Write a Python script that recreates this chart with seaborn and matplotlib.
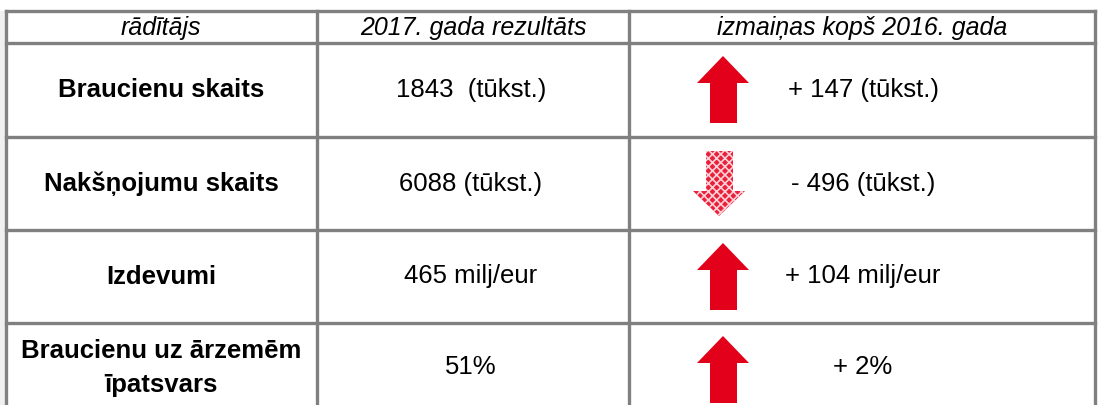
import numpy as np
import pandas as pd
import matplotlib
matplotlib.use("Agg")
import matplotlib.pyplot as plt
import seaborn as sns
from matplotlib.patches import Polygon, Rectangle

sns.set_theme(style="white")
plt.rcParams['font.family'] = ['Liberation Sans', 'DejaVu Sans']
plt.rcParams['text.color'] = 'black'
plt.rcParams['hatch.linewidth'] = 1.2

# table data
headers = ["rādītājs", "2017. gada rezultāts", "izmaiņas kopš 2016. gada"]
indicators = ["Braucienu skaits", "Nakšņojumu skaits", "Izdevumi", "Braucienu uz ārzemēm\nīpatsvars"]
results = ["1843  (tūkst.)", "6088 (tūkst.)", "465 milj/eur", "51%"]
changes = ["+ 147 (tūkst.)", "- 496 (tūkst.)", "+ 104 milj/eur", "+ 2%"]
direction = [1, -1, 1, 1]

df = pd.DataFrame({"indicator": indicators, "result": results,
                   "change": changes, "dir": direction})

# layout (pixel coords)
col_x = [6, 317, 629, 1095]
row_y = [11, 43, 137, 230, 323, 405]
line_c = "#808080"
red = "#e2001a"

fig = plt.figure(figsize=(10.98, 4.05), dpi=100)
ax = fig.add_axes([0, 0, 1, 1])
ax.set_xlim(0, 1098)
ax.set_ylim(405, 0)
ax.axis("off")

# light grey strip at left
ax.add_patch(Rectangle((0, 11), 5, 394, color="#f0f0f0", lw=0))

# grid lines
for y in row_y[:-1]:
    ax.plot([col_x[0], col_x[-1]], [y, y], color=line_c, lw=2.4, solid_capstyle="projecting")
for x in col_x:
    ax.plot([x, x], [row_y[0], 405], color=line_c, lw=2.4, solid_capstyle="projecting")

fs = 18.5
col_c = [161, 473, 862]

# header
for c, h in zip(col_c, headers):
    ax.text(c, 27.5, h, ha="center", va="center", fontsize=fs - 0.5, style="italic", color="black")

for i, r in df.iterrows():
    top, bot = row_y[i + 1], row_y[i + 2]
    cy = (top + bot) / 2 if i < 3 else 367
    ax.text(col_c[0], cy + (1 if i == 3 else 0), r["indicator"], ha="center", va="center",
            fontsize=fs, fontweight="bold", linespacing=1.5, color="black")
    ax.text(col_c[1] - 2, cy, r["result"], ha="center", va="center", fontsize=fs, color="black")
    ax.text(863, cy, r["change"], ha="center", va="center", fontsize=fs, color="black")

    # arrow
    ax_c = 723
    if r["dir"] > 0:
        y0 = top + 13
        pts = [(ax_c, y0), (ax_c + 26, y0 + 27), (ax_c + 14, y0 + 27), (ax_c + 14, y0 + 67),
               (ax_c - 13, y0 + 67), (ax_c - 13, y0 + 27), (ax_c - 26, y0 + 27)]
        ax.add_patch(Polygon(pts, closed=True, facecolor=red, edgecolor="none"))
    else:
        ax_c = 719
        y0 = top + 14
        pts = [(ax_c - 13, y0), (ax_c + 14, y0), (ax_c + 14, y0 + 40), (ax_c + 26, y0 + 40),
               (ax_c, y0 + 65), (ax_c - 26, y0 + 40), (ax_c - 13, y0 + 40)]
        ax.add_patch(Polygon(pts, closed=True, facecolor="#e8203a", edgecolor="#ffd0d6",
                             lw=0, hatch="xxxx"))

fig.savefig("out.png", dpi=100, facecolor="white")
